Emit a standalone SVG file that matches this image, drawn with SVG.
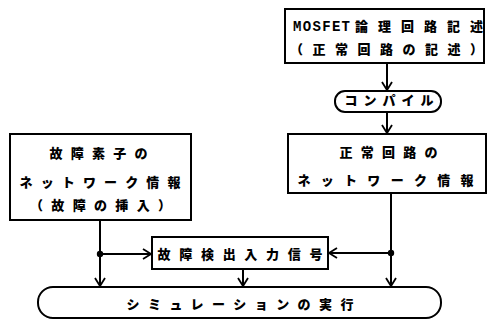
<svg xmlns="http://www.w3.org/2000/svg" width="487" height="320" viewBox="0 0 487 320">
<defs>
<style>
.box{fill:#fff;stroke:#000;stroke-width:2}
.ln{fill:none;stroke:#000;stroke-width:2}
.t{font-family:"Noto Sans CJK JP","Noto Sans",sans-serif;font-weight:900;font-size:13px;fill:#000}
.m{font-family:"Liberation Mono",monospace;font-weight:700;font-size:14px;fill:#000}
</style>
<marker id="arr" markerUnits="userSpaceOnUse" markerWidth="12" markerHeight="12" refX="9" refY="6" orient="auto">
<path d="M1,1 L9,6 L1,11" fill="none" stroke="#000" stroke-width="1.8"/>
</marker>
</defs>
<rect width="487" height="320" fill="#fff"/>
<g id="connectors">
<line class="ln" x1="387" y1="63" x2="387" y2="90" marker-end="url(#arr)"/>
<line class="ln" x1="387" y1="112" x2="387" y2="133" marker-end="url(#arr)"/>
<line class="ln" x1="391" y1="193" x2="391" y2="286" marker-end="url(#arr)"/>
<line class="ln" x1="391" y1="253" x2="329" y2="253" marker-end="url(#arr)"/>
<line class="ln" x1="100" y1="220" x2="100" y2="286" marker-end="url(#arr)"/>
<line class="ln" x1="100" y1="254" x2="151" y2="254" marker-end="url(#arr)"/>
<line class="ln" x1="243" y1="269" x2="243" y2="286" marker-end="url(#arr)"/>
<circle cx="391" cy="253" r="3.2" fill="#000"/>
<circle cx="100" cy="254" r="3.2" fill="#000"/>
</g>
<g id="mosfet">
<rect class="box" x="285" y="9" width="199" height="54"/>
<text class="m" x="293" y="31" textLength="57" lengthAdjust="spacing">MOSFET</text>
<text class="t" x="355" y="31" textLength="128" lengthAdjust="spacing">論理回路記述</text>
<text class="t" x="290" y="53.5" textLength="193" lengthAdjust="spacing">（正常回路の記述）</text>
</g>
<g id="compile">
<rect class="box" x="335" y="91" width="106" height="21" rx="10" ry="10"/>
<text class="t" x="344.5" y="105" textLength="89" lengthAdjust="spacing">コンパイル</text>
</g>
<g id="normal">
<rect class="box" x="288" y="134" width="198" height="59"/>
<text class="t" x="339.5" y="157" textLength="98" lengthAdjust="spacing">正常回路の</text>
<text class="t" x="297.5" y="185" textLength="176" lengthAdjust="spacing">ネットワーク情報</text>
</g>
<g id="fault">
<rect class="box" x="10" y="134" width="181" height="86"/>
<text class="t" x="49.5" y="158" textLength="98" lengthAdjust="spacing">故障素子の</text>
<text class="t" x="19.5" y="187" textLength="161" lengthAdjust="spacing">ネットワーク情報</text>
<text class="t" x="30" y="210" textLength="141" lengthAdjust="spacing">（故障の挿入）</text>
</g>
<g id="signal">
<rect class="box" x="152" y="237" width="176" height="32"/>
<text class="t" x="157.5" y="258.5" textLength="165" lengthAdjust="spacing">故障検出入力信号</text>
</g>
<g id="sim">
<rect class="box" x="38" y="287" width="403" height="31" rx="15" ry="15"/>
<text class="t" x="126.5" y="309" textLength="227" lengthAdjust="spacing">シミュレーションの実行</text>
</g>
</svg>
